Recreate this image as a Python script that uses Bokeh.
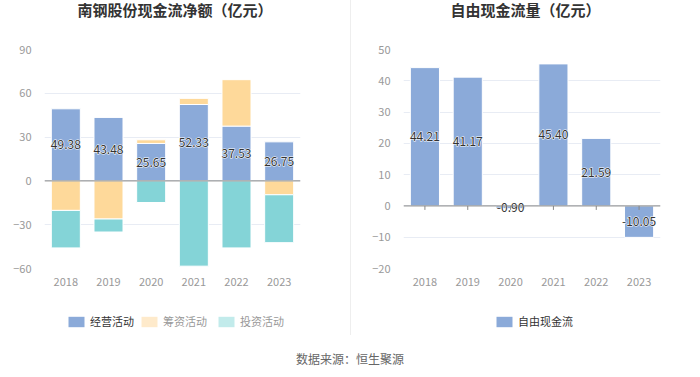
from bokeh.plotting import figure
from bokeh.models import (FactorRange, Range1d, ColumnDataSource, Span, Legend,
                          LegendItem, Div, FixedTicker)
from bokeh.layouts import row, column
from bokeh.core.properties import value
from bokeh.embed import file_html
from bokeh.resources import INLINE

# ---------------- data ----------------
years = ["2018", "2019", "2020", "2021", "2022", "2023"]
operating = [49.38, 43.48, 25.65, 52.33, 37.53, 26.75]
financing = [-20.2, -26.1, 2.5, 4.2, 31.8, -9.5]
investing = [-25.7, -8.9, -14.8, -58.4, -45.9, -32.8]
fcf = [44.21, 41.17, -0.90, 45.40, 21.59, -10.05]
left_ticks = [-60, -30, 0, 30, 60, 90]
right_ticks = [-20, -10, 0, 10, 20, 30, 40, 50]
left_title = "南钢股份现金流净额（亿元）"
right_title = "自由现金流量（亿元）"
series_names = ["经营活动", "筹资活动", "投资活动"]
fcf_name = "自由现金流"
source_text = "数据来源：恒生聚源"

FONT = "Noto Sans CJK SC"
C_OP = "#8baad9"
C_FIN = "#fed99a"
C_INV = "#84d4d7"
C_FIN_L = "#feeacb"
C_INV_L = "#c2ebeb"
GRID = "#e8ecf4"
ZERO = "#888888"
TICK = "#999999"
SEP = "#eeeeee"

TITLE_H = 25
CH_H = 280
FRAME_BOTTOM = 268 - TITLE_H  # frame bottom inside chart figure


def style(p, ticks):
    p.outline_line_color = None
    p.background_fill_color = "white"
    p.border_fill_color = "white"
    p.yaxis.ticker = FixedTicker(ticks=ticks)
    p.ygrid.ticker = FixedTicker(ticks=ticks)
    p.ygrid.grid_line_color = GRID
    p.xgrid.grid_line_color = None
    for ax in (p.xaxis, p.yaxis):
        ax.axis_line_color = None
        ax.major_tick_line_color = None
        ax.minor_tick_line_color = None
        ax.major_label_text_color = TICK
        ax.major_label_text_font_size = "11px"
        ax.major_label_text_font = FONT
    p.yaxis.major_label_standoff = 7
    p.xaxis.major_label_standoff = 3


def add_value_labels(p, src):
    # white halo then dark text on top
    p.text(x="x", y="y", text="t", source=src, text_align="center",
           text_baseline="middle", text_font=value(FONT), text_font_size="12px",
           text_color="white", text_outline_color="white")
    p.text(x="x", y="y", text="t", source=src, text_align="center",
           text_baseline="middle", text_font=value(FONT), text_font_size="12px",
           text_color="#333333")


def legend_fig(width):
    f = figure(width=width, height=35, x_range=Range1d(0, 1), y_range=Range1d(0, 1),
               x_axis_type=None, y_axis_type=None, output_backend="svg",
               toolbar_location=None, min_border=0, min_border_left=0,
               min_border_right=0, min_border_top=0, min_border_bottom=0)
    f.outline_line_color = None
    f.grid.visible = False
    return f


def title_div(text, width):
    return Div(text=('<div style="width:%dpx;text-align:center;font-family:\'%s\';'
                     'font-size:15px;font-weight:bold;color:#333333;'
                     'line-height:20px;">%s</div>') % (width, FONT, text),
               width=width, height=TITLE_H, margin=0)


# ---------------- left chart ----------------
p1 = figure(width=350, height=CH_H, x_range=FactorRange(*years, range_padding=0),
            y_range=Range1d(left_ticks[0], left_ticks[-1]),
            output_backend="svg", toolbar_location=None,
            min_border_left=44, min_border_right=50, min_border_top=49 - TITLE_H,
            min_border_bottom=CH_H - FRAME_BOTTOM)
p1.x_range.factor_padding = 0
style(p1, left_ticks)

pos = [0.0] * len(years)
neg = [0.0] * len(years)
for vals, col in ((operating, C_OP), (financing, C_FIN), (investing, C_INV)):
    bottoms, tops = [], []
    for i, v in enumerate(vals):
        if v >= 0:
            bottoms.append(pos[i]); tops.append(pos[i] + v); pos[i] += v
        else:
            bottoms.append(neg[i] + v); tops.append(neg[i]); neg[i] += v
    src = ColumnDataSource(dict(x=years, bottom=bottoms, top=tops))
    p1.vbar(x="x", bottom="bottom", top="top", width=0.68, source=src,
            fill_color=col, line_color="white", line_width=1)

p1.add_layout(Span(location=0, dimension="width", line_color=ZERO, line_width=1))

add_value_labels(p1, ColumnDataSource(dict(x=years, y=[v / 2 for v in operating],
                                           t=["%.2f" % v for v in operating])))

# ---------------- right chart ----------------
p2 = figure(width=349, height=CH_H, x_range=FactorRange(*years, range_padding=0),
            y_range=Range1d(right_ticks[0], right_ticks[-1]),
            output_backend="svg", toolbar_location=None,
            min_border_left=52, min_border_right=40, min_border_top=49 - TITLE_H,
            min_border_bottom=CH_H - FRAME_BOTTOM)
p2.x_range.factor_padding = 0
style(p2, right_ticks)

src2 = ColumnDataSource(dict(x=years, top=fcf))
p2.vbar(x="x", top="top", bottom=0, width=0.68, source=src2,
        fill_color=C_OP, line_color="white", line_width=1)
p2.add_layout(Span(location=0, dimension="width", line_color=ZERO, line_width=1))
tick_len = 4 * (right_ticks[-1] - right_ticks[0]) / 219.0
p2.segment(x0=years, y0=[0] * len(years), x1=years, y1=[-tick_len] * len(years),
           line_color=ZERO, line_width=1)

add_value_labels(p2, ColumnDataSource(dict(x=years, y=[v / 2 for v in fcf],
                                           t=["%.2f" % v for v in fcf])))

# ---------------- legends ----------------
leg_common = dict(orientation="horizontal", glyph_width=20, glyph_height=13,
                  label_text_font_size="11px", label_text_font=FONT,
                  border_line_color=None, background_fill_alpha=0,
                  padding=0, margin=0, spacing=9, label_standoff=4,
                  label_height=13)


def swatch(f, color):
    # zero-height bar: nothing visible in the figure, only the legend icon
    return f.vbar(x=[0.5], bottom=[0], top=[0], width=0.1,
                  fill_color=color, line_color=None)


l1 = legend_fig(350)
d_op = swatch(l1, C_OP)
d_fin = swatch(l1, C_FIN_L)
d_inv = swatch(l1, C_INV_L)
l1.add_layout(Legend(items=[LegendItem(label=series_names[0], renderers=[d_op])],
                     location=(66, 11), label_text_color="#333333", **leg_common))
l1.add_layout(Legend(items=[LegendItem(label=series_names[1], renderers=[d_fin]),
                            LegendItem(label=series_names[2], renderers=[d_inv])],
                     location=(139, 11), label_text_color="#999999", **leg_common))

l2 = legend_fig(349)
d2 = swatch(l2, C_OP)
l2.add_layout(Legend(items=[LegendItem(label=fcf_name, renderers=[d2])],
                     location=(143, 11), label_text_color="#333333", **leg_common))

# ---------------- layout ----------------
def sep(h):
    return Div(text="", width=1, height=h, margin=0,
               styles={"background-color": SEP})


src_div = Div(text=('<div style="width:700px;text-align:center;font-family:\'%s\';'
                    'font-size:12px;color:#666666;line-height:37px;">%s</div>')
              % (FONT, source_text),
              width=700, height=37, margin=0)
layout = column(row(title_div(left_title, 350), sep(TITLE_H),
                    title_div(right_title, 349), spacing=0),
                row(p1, sep(CH_H), p2, spacing=0),
                row(l1, sep(30), l2, spacing=0),
                src_div, spacing=0)

open("out.html", "w").write(file_html(layout, INLINE))
